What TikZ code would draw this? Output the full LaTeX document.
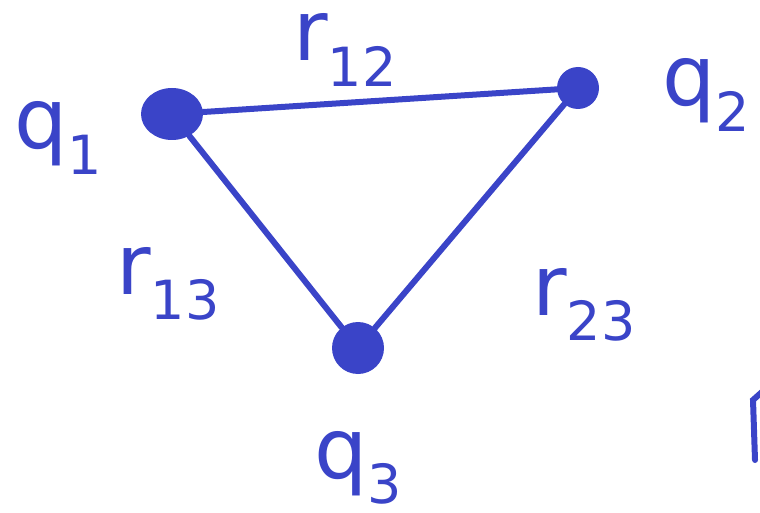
\documentclass[tikz,border=0pt]{standalone}
\usepackage{fontspec}
\usetikzlibrary{shapes.geometric}
\setmainfont{DejaVu Sans}
\definecolor{pen}{RGB}{58,68,200}
\newcommand\lsub[1]{\raisebox{-0.3em}{\fontsize{54}{54}\selectfont #1}}
\begin{document}
\begin{tikzpicture}[x=1pt,y=-1pt,
  charge/.style={circle,fill=pen,inner sep=0pt},
  link/.style={draw=pen,line width=6pt,line cap=round},
  lbl/.style={text=pen,font=\fontsize{84}{86}\selectfont,inner sep=0pt}]
\useasboundingbox (0,0) rectangle (760,513);
\node[charge,ellipse,minimum width=62pt,minimum height=52pt] (q1) at (172,114) {};
\node[charge,minimum size=42pt] (q2) at (578,88) {};
\node[charge,minimum size=52pt] (q3) at (358,348) {};
\draw[link] (q1) -- (q2);
\draw[link] (q1) -- (q3);
\draw[link] (q2) -- (q3);
\node[lbl] (l1) at (58,138) {q\lsub{1}};
\node[lbl] (l2) at (706,95) {q\lsub{2}};
\node[lbl] (l3) at (358,468) {q\lsub{3}};
\node[lbl] (r12) at (345,50) {r\lsub{12}};
\node[lbl] (r13) at (168,284) {r\lsub{13}};
\node[lbl] (r23) at (584,305) {r\lsub{23}};
\draw[link] (762,392) -- (753,400) -- (755,460);
\end{tikzpicture}
\end{document}
